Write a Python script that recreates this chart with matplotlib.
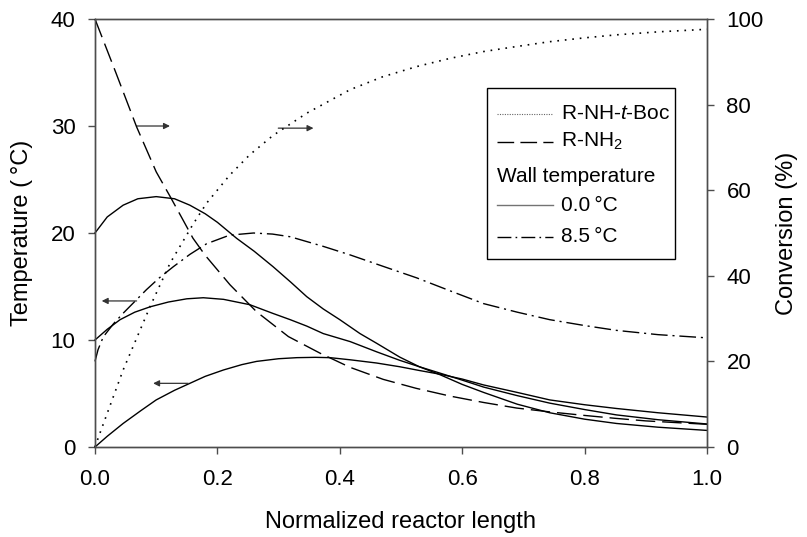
import matplotlib
matplotlib.use("Agg")
import matplotlib.pyplot as plt
from matplotlib.lines import Line2D
from matplotlib.patches import Rectangle

plt.rcParams['font.family'] = ['Liberation Sans', 'DejaVu Sans']
plt.rcParams['mathtext.fontset'] = 'custom'
plt.rcParams['mathtext.rm'] = 'Liberation Sans'
plt.rcParams['mathtext.it'] = 'Liberation Sans:italic'
plt.rcParams['font.size'] = 16

# conversion curves (right axis, %)
x_boc = [0, 0.008, 0.046, 0.09, 0.1225, 0.16, 0.1825, 0.22, 0.253, 0.291, 0.346,
         0.417, 0.47, 0.526, 0.58, 0.635, 0.69, 0.743, 0.8, 0.852, 0.92, 1.0]
conv_boc = [0, 3.2, 18, 32.8, 42.9, 52, 57, 63.5, 68.3, 72.8, 78,
            83.5, 86.5, 88.9, 90.8, 92.4, 93.6, 94.7, 95.6, 96.3, 97.0, 97.6]

x_nh2 = [0, 0.034, 0.068, 0.1, 0.1225, 0.144, 0.16, 0.18, 0.2206, 0.264, 0.316,
         0.368, 0.417, 0.471, 0.525, 0.58, 0.635, 0.689, 0.743, 0.798, 0.85,
         0.9, 0.95, 1.0]
conv_nh2 = [100, 87.5, 74.8, 64.3, 58.6, 53, 48.8, 44.8, 37.9, 31.6, 25.8,
            21.9, 18.6, 15.8, 13.7, 11.9, 10.4, 9.1, 8.2, 7.4, 6.7,
            6.1, 5.7, 5.3]

# temperature curves (left axis, deg C), wall temperature 0.0 C
x_a = [0, 0.02, 0.046, 0.07, 0.1, 0.13, 0.155, 0.18, 0.2, 0.2315, 0.26, 0.291,
       0.32, 0.346, 0.373, 0.4, 0.433, 0.46, 0.498, 0.53, 0.564, 0.6, 0.635,
       0.69, 0.743, 0.8, 0.852, 0.92, 1.0]
temp_a = [20.0, 21.5, 22.6, 23.2, 23.4, 23.2, 22.6, 21.8, 21.0, 19.5, 18.3, 16.85,
          15.4, 14.05, 12.9, 11.9, 10.6, 9.7, 8.4, 7.5, 6.75, 5.85, 5.1,
          4.0, 3.2, 2.6, 2.2, 1.85, 1.55]

x_b = [0, 0.02, 0.041, 0.065, 0.09, 0.12, 0.15, 0.177, 0.21, 0.253, 0.29, 0.319,
       0.346, 0.373, 0.417, 0.46, 0.498, 0.53, 0.564, 0.6, 0.635, 0.69, 0.743,
       0.8, 0.852, 0.92, 1.0]
temp_b = [10.0, 11.0, 11.9, 12.6, 13.1, 13.55, 13.85, 13.95, 13.8, 13.3, 12.5, 11.9,
          11.3, 10.6, 9.85, 8.9, 8.1, 7.5, 6.9, 6.25, 5.6, 4.8, 4.1,
          3.5, 3.0, 2.55, 2.15]

x_c = [0, 0.02, 0.046, 0.075, 0.1, 0.13, 0.155, 0.18, 0.21, 0.24, 0.264, 0.3,
       0.33, 0.36, 0.384, 0.417, 0.46, 0.498, 0.53, 0.564, 0.6, 0.635, 0.69,
       0.743, 0.8, 0.852, 0.92, 1.0]
temp_c = [0, 1.0, 2.2, 3.4, 4.4, 5.3, 5.95, 6.6, 7.2, 7.7, 8.0, 8.25,
          8.35, 8.38, 8.35, 8.15, 7.85, 7.5, 7.15, 6.8, 6.35, 5.8, 5.1,
          4.4, 3.95, 3.6, 3.2, 2.8]

# wall temperature 8.5 C
x_d = [0, 0.005, 0.0136, 0.03, 0.046, 0.065, 0.084, 0.105, 0.128, 0.155, 0.1825,
       0.22, 0.259, 0.29, 0.319, 0.346, 0.373, 0.417, 0.47, 0.526, 0.58, 0.635,
       0.69, 0.743, 0.8, 0.852, 0.92, 1.0]
temp_d = [8.0, 9.1, 10.3, 11.5, 12.5, 13.6, 14.7, 15.8, 16.85, 18.0, 19.0,
          19.8, 20.0, 19.9, 19.65, 19.2, 18.75, 17.95, 16.9, 15.8, 14.6, 13.4,
          12.6, 11.9, 11.35, 10.9, 10.5, 10.2]

# arrows (x start, x end, y in deg C)
arrows = [(0.068, 0.1225, 30.0), (0.2995, 0.357, 29.8),
          (0.068, 0.011, 13.65), (0.1525, 0.095, 5.95)]

fig = plt.figure(figsize=(8.07, 5.37), dpi=100)
ax = fig.add_axes([0.1177, 0.1676, 0.7584, 0.797])
ax2 = ax.twinx()

k = 'black'
dash_pat = (14, 5)
dot_pat = (1, 3.5)
dd_pat = (12, 3.5, 1.5, 3.5)

ax2.plot(x_boc, conv_boc, color=k, lw=1.2, dashes=dot_pat, clip_on=False)
ax2.plot(x_nh2, conv_nh2, color=k, lw=1.0, dashes=dash_pat, clip_on=False)
for xs, ts in [(x_a, temp_a), (x_b, temp_b), (x_c, temp_c)]:
    ax.plot(xs, ts, color=k, lw=1.0, clip_on=False)
ax.plot(x_d, temp_d, color=k, lw=1.0, dashes=dd_pat, clip_on=False)

for x0, x1, y in arrows:
    ax.annotate('', xy=(x1, y), xytext=(x0, y),
                arrowprops=dict(arrowstyle='-|>', color='0.2', lw=0.9,
                                mutation_scale=9, shrinkA=0, shrinkB=0))

ax.set_xlim(0, 1.0)
ax.set_ylim(0, 40)
ax2.set_ylim(0, 100)
ax.set_xticks([0, 0.2, 0.4, 0.6, 0.8, 1.0])
ax.set_xticklabels(['0.0', '0.2', '0.4', '0.6', '0.8', '1.0'])
ax.set_yticks([0, 10, 20, 30, 40])
ax2.set_yticks([0, 20, 40, 60, 80, 100])
for a in (ax, ax2):
    a.tick_params(direction='out', length=5, width=1.0, color='0.3', pad=9,
                  labelsize=16)
    for s in a.spines.values():
        s.set_color('0.3')
        s.set_linewidth(1.0)
ax.tick_params(axis='x', pad=11)

ax.set_xlabel('Normalized reactor length', fontsize=17)
ax.xaxis.set_label_coords(0.5, -0.1495)
ax.set_ylabel('Temperature (\u2009°C)', fontsize=17)
ax.yaxis.set_label_coords(-0.101, 0.5)
ax2.set_ylabel('Conversion (%)', fontsize=17)
ax2.yaxis.set_label_coords(1.112, 0.5)

# legend drawn by hand in axes coordinates
ax.add_patch(Rectangle((0.640, 0.439), 0.308, 0.400, transform=ax.transAxes,
                       fill=False, edgecolor='black', lw=1.0, zorder=5))
hx0, hx1, tx = 0.657, 0.748, 0.761
rows = [0.779, 0.713, 0.631, 0.565, 0.491]
ax.add_line(Line2D([hx0, hx1], [rows[0]] * 2, transform=ax.transAxes,
                   color='0.4', lw=0.8, dashes=(1, 1.2)))
ax.add_line(Line2D([hx0, hx1], [rows[1]] * 2, transform=ax.transAxes,
                   color=k, lw=1.0, dashes=(12, 4.5)))
ax.add_line(Line2D([hx0, hx1], [rows[3]] * 2, transform=ax.transAxes,
                   color='0.45', lw=1.0))
ax.add_line(Line2D([hx0, hx1], [rows[4]] * 2, transform=ax.transAxes,
                   color=k, lw=1.0, dashes=(10, 3, 1.2, 3)))
labels = ['R-NH-$t$-Boc', 'R-NH$_2$', None, '0.0\u2009°C', '8.5\u2009°C']
for r, lab in zip(rows, labels):
    if lab:
        ax.text(tx, r, lab, transform=ax.transAxes, va='center', ha='left',
                fontsize=15)
ax.text(hx0, rows[2], 'Wall temperature', transform=ax.transAxes,
        va='center', ha='left', fontsize=15)

fig.savefig('out.png', dpi=100)
